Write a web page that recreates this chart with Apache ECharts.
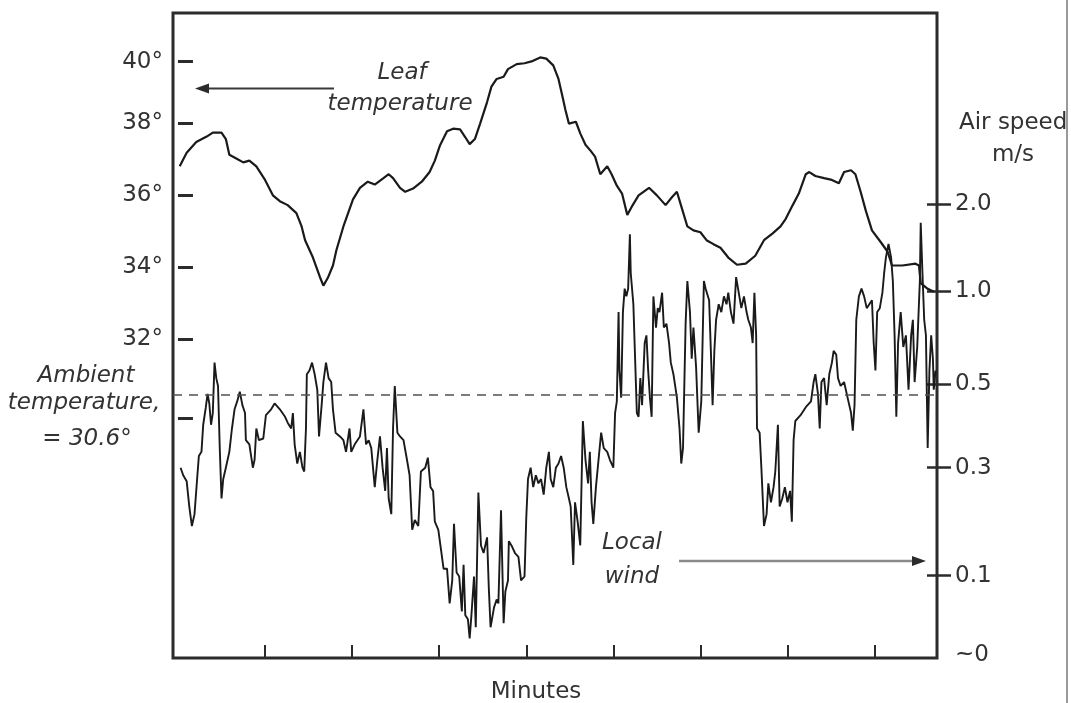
<!DOCTYPE html>
<html><head><meta charset="utf-8">
<script src="https://cdn.jsdelivr.net/npm/echarts@6/dist/echarts.min.js"></script>
<style>html,body{margin:0;padding:0;background:#fff}#c{width:1071px;height:703px}</style>
</head><body><div id="c"></div><script>
// ---------------- data ----------------
// Leaf temperature, degrees C, versus time (minutes)
const leafTime = [0.02,0.10,0.21,0.33,0.40,0.50,0.55,0.59,0.67,0.75,
0.82,0.90,1.00,1.09,1.17,1.26,1.36,1.42,1.46,1.55,
1.63,1.67,1.72,1.78,1.82,1.90,2.01,2.09,2.18,2.26,
2.36,2.42,2.47,2.55,2.61,2.70,2.80,2.89,2.95,3.01,
3.09,3.16,3.24,3.30,3.35,3.41,3.47,3.55,3.60,3.66,
3.74,3.79,3.89,3.98,4.06,4.16,4.23,4.31,4.37,4.41,
4.45,4.49,4.57,4.62,4.68,4.74,4.79,4.85,4.93,4.98,
5.04,5.10,5.16,5.21,5.29,5.41,5.50,5.60,5.67,5.73,
5.79,5.85,5.92,6.00,6.07,6.15,6.23,6.32,6.42,6.52,
6.63,6.73,6.83,6.92,6.98,7.06,7.13,7.21,7.25,7.32,
7.42,7.51,7.59,7.65,7.73,7.78,7.84,7.90,7.97,8.07,
8.15,8.20,8.32,8.47,8.51,8.53,8.61,8.68];
const leafTemp = [36.80,37.18,37.48,37.63,37.74,37.74,37.56,37.12,37.02,36.91,
36.96,36.80,36.42,35.99,35.83,35.72,35.50,35.13,34.75,34.27,
33.73,33.49,33.70,34.05,34.48,35.13,35.88,36.20,36.37,36.29,
36.47,36.58,36.47,36.20,36.09,36.18,36.37,36.64,36.96,37.39,
37.78,37.85,37.83,37.61,37.42,37.56,37.99,38.69,39.19,39.44,
39.51,39.76,39.92,39.95,40.01,40.14,40.10,39.88,39.44,38.94,
38.43,37.99,38.05,37.72,37.40,37.23,37.07,36.58,36.80,36.58,
36.26,36.04,35.45,35.67,35.99,36.20,35.99,35.72,35.93,36.09,
35.61,35.13,35.02,34.97,34.75,34.64,34.54,34.27,34.07,34.10,
34.32,34.75,34.94,35.13,35.34,35.72,36.04,36.58,36.64,36.53,
36.47,36.42,36.33,36.64,36.69,36.58,36.09,35.56,35.02,34.70,
34.43,34.05,34.05,34.10,34.05,33.56,33.40,33.32];

// Local wind (air speed, m/s) versus time (minutes)
const windTime = [0.03,0.06,0.10,0.13,0.16,0.19,0.22,0.24,0.27,0.29,
0.32,0.34,0.36,0.38,0.40,0.42,0.44,0.46,0.48,0.50,
0.52,0.55,0.59,0.62,0.65,0.68,0.71,0.74,0.77,0.78,
0.82,0.86,0.88,0.90,0.93,0.98,1.01,1.07,1.11,1.17,
1.23,1.26,1.30,1.32,1.34,1.37,1.40,1.43,1.45,1.47,
1.48,1.51,1.54,1.57,1.60,1.62,1.65,1.67,1.70,1.73,
1.76,1.78,1.81,1.86,1.90,1.93,1.97,1.99,2.03,2.09,
2.13,2.16,
2.19,2.22,2.26,2.29,2.32,2.35,2.38,2.40,2.42,2.45,
2.47,2.49,2.52,2.55,2.59,2.63,2.66,2.69,2.72,2.76,
2.79,2.84,2.87,2.90,2.93,2.95,2.99,3.02,3.05,3.09,
3.12,3.15,3.17,3.20,3.23,3.26,3.28,3.30,3.33,3.35,
3.37,3.40,3.42,3.45,3.48,3.51,3.55,3.57,3.59,3.63,
3.66,3.68,3.71,3.74,3.76,3.79,3.80,3.83,3.87,3.91,
3.94,3.98,4.00,4.02,4.05,4.08,4.11,4.14,4.17,4.20,
4.23,4.26,4.28,4.31,4.34,4.37,
4.40,4.43,4.46,4.49,4.51,4.54,4.56,4.59,4.62,4.65,
4.68,4.71,4.73,4.75,4.77,4.80,4.83,4.86,4.89,4.93,
4.96,5.00,5.02,5.04,5.06,5.07,5.09,5.11,5.13,5.15,
5.17,5.19,5.20,5.23,5.25,5.27,5.29,5.31,5.33,5.36,
5.38,5.40,5.42,5.44,5.46,5.49,5.51,5.53,5.56,5.58,
5.61,5.64,5.66,5.69,5.73,5.76,5.78,5.80,5.83,5.85,
5.88,5.90,5.92,5.95,5.98,6.01,6.04,6.06,6.10,6.12,
6.14,6.16,6.18,6.21,6.24,6.27,6.30,6.32,6.35,6.38,
6.41,6.44,6.47,6.50,6.53,6.55,
6.58,6.60,6.62,6.64,6.65,6.68,6.70,6.73,6.76,6.78,
6.81,6.84,6.86,6.89,6.91,6.94,6.97,7.00,7.03,7.05,
7.07,7.09,7.15,7.21,7.27,7.30,7.32,7.35,7.37,7.39,
7.42,7.45,7.48,7.51,7.53,7.56,7.58,7.61,7.65,7.69,
7.73,7.75,7.77,7.79,7.82,7.85,7.88,7.91,7.94,7.97,
7.99,8.01,8.03,8.06,8.09,8.11,8.13,8.16,8.19,8.21,
8.23,8.25,8.27,8.30,8.33,8.36,8.39,8.42,8.44,8.46,
8.49,8.52,8.53,8.55,8.57,8.59,8.61,8.63,8.65,8.67,
8.68,8.70];
const windSpeed = [0.30,0.286,0.275,0.228,0.192,0.214,0.279,0.328,0.338,0.403,
0.445,0.477,0.454,0.403,0.431,0.616,0.533,0.496,0.347,0.243,
0.279,0.300,0.338,0.394,0.440,0.459,0.482,0.450,0.431,0.366,
0.356,0.300,0.319,0.394,0.366,0.370,0.426,0.440,0.454,0.440,
0.422,0.408,0.394,0.431,0.356,0.310,0.338,0.300,0.293,0.394,
0.554,0.574,0.616,0.554,0.487,0.375,0.450,0.512,0.616,0.533,
0.512,0.440,0.384,0.375,0.366,0.338,0.394,0.338,0.356,0.375,
0.440,0.356,
0.366,0.347,0.264,0.319,0.375,0.300,0.257,0.347,0.243,0.214,
0.394,0.496,0.384,0.375,0.366,0.319,0.286,0.185,0.203,0.192,
0.293,0.300,0.324,0.264,0.257,0.200,0.185,0.149,0.113,0.113,
0.065,0.094,0.196,0.106,0.099,0.055,0.120,0.050,0.045,0.021,
0.050,0.099,0.035,0.254,0.156,0.142,0.171,0.084,0.035,0.060,
0.070,0.065,0.221,0.040,0.080,0.094,0.164,0.156,0.142,0.135,
0.094,0.099,0.207,0.279,0.300,0.264,0.286,0.271,0.279,0.250,
0.300,0.338,0.279,0.264,0.300,0.310,
0.328,0.300,0.264,0.243,0.228,0.120,0.236,0.200,0.156,0.412,
0.319,0.271,0.338,0.236,0.196,0.264,0.319,0.384,0.347,0.338,
0.319,0.300,0.431,0.459,0.887,0.574,0.468,0.887,1.027,0.971,
1.027,1.654,1.205,0.929,0.637,0.431,0.422,0.533,0.450,0.721,
0.762,0.574,0.468,0.422,0.971,0.804,0.908,0.887,0.991,0.804,
0.825,0.721,0.616,0.554,0.468,0.394,0.310,0.347,0.825,1.115,
0.887,0.637,0.804,0.595,0.384,0.459,1.115,1.027,0.950,0.679,
0.450,0.679,0.846,0.929,0.887,0.971,0.929,0.991,0.887,0.825,
1.160,0.991,0.908,0.971,0.887,0.846,
0.804,0.721,0.991,0.762,0.394,0.384,0.300,0.192,0.214,0.271,
0.236,0.264,0.293,0.403,0.228,0.243,0.264,0.236,0.257,0.200,
0.366,0.412,0.426,0.445,0.459,0.512,0.554,0.477,0.394,0.512,
0.533,0.450,0.554,0.616,0.679,0.658,0.533,0.496,0.512,0.468,
0.431,0.389,0.450,0.846,0.971,1.027,0.971,0.908,0.929,0.950,
0.721,0.574,0.887,0.908,0.991,1.205,1.385,1.542,1.385,1.115,
0.762,0.422,0.721,0.887,0.700,0.762,0.487,0.762,0.846,0.512,
0.700,1.115,1.788,1.205,0.846,0.762,0.347,0.574,0.762,0.637,
0.487,0.574];

const AMBIENT_TEMP = 30.6;

// Tick values and labels
const TEMP_TICKS = [30, 32, 34, 36, 38, 40];
const TEMP_TICK_LABELS = ['', '32°', '34°', '36°', '38°', '40°'];
const SPEED_TICKS = [0, 0.1, 0.3, 0.5, 1.0, 2.0];
const SPEED_TICK_LABELS = ['~0', '0.1', '0.3', '0.5', '1.0', '2.0'];
const MINUTE_TICKS = [1, 2, 3, 4, 5, 6, 7, 8];

// ---------------- axis calibration (the original axes are hand-drawn, non-uniform) ----------------
// Height of each labelled tick above the plot bottom, in the shared vertical axis unit.
const AXIS_SPAN = 645;
const TEMP_TICK_HEIGHT = [239.7, 319, 390.7, 463, 534.7, 596.3];
const SPEED_TICK_HEIGHT = [3, 82.3, 190.3, 273.7, 367, 453.7];
const X_MIN = -0.057, X_MAX = 8.717;

function piecewise(v, xs, ys) {
  let i = 0;
  if (v >= xs[xs.length - 1]) i = xs.length - 2;
  else if (v > xs[0]) { while (v > xs[i + 1]) i++; }
  return ys[i] + (v - xs[i]) * (ys[i + 1] - ys[i]) / (xs[i + 1] - xs[i]);
}
const tempScale = v => piecewise(v, TEMP_TICKS, TEMP_TICK_HEIGHT);
const speedScale = v => piecewise(v, SPEED_TICKS, SPEED_TICK_HEIGHT);
function labelAt(val, heights, labels) {
  const i = heights.findIndex(h => Math.abs(h - val) < 0.05);
  return i >= 0 ? labels[i] : '';
}

const leafData = leafTime.slice(0, Math.min(leafTime.length, leafTemp.length))
  .map((t, i) => [t, tempScale(leafTemp[i])]);
const windData = windTime.slice(0, Math.min(windTime.length, windSpeed.length))
  .map((t, i) => [t, speedScale(windSpeed[i])]);

const FONT = '"DejaVu Sans", "Liberation Sans", Arial, sans-serif';
const INK = '#2b2b2b';
const TXT = '#333333';

const chart = echarts.init(document.getElementById('c'), null, {renderer: 'canvas'});

function txt(text, x, y, align, italic) {
  return {
    type: 'text', silent: true, z: 50,
    style: {
      text: text, x: x, y: y, fill: TXT,
      font: (italic ? 'italic ' : '') + '23px ' + FONT,
      align: align, textAlign: align, verticalAlign: 'middle', textVerticalAlign: 'middle'
    }
  };
}

chart.setOption({
  animation: false,
  backgroundColor: '#ffffff',
  grid: {left: 173, right: 134, top: 13, bottom: 45, show: true, borderColor: INK, borderWidth: 3, backgroundColor: 'transparent'},
  xAxis: {
    type: 'value', min: X_MIN, max: X_MAX,
    axisLine: {show: false},
    axisTick: {show: true, inside: true, length: 13, customValues: MINUTE_TICKS, lineStyle: {color: INK, width: 2}},
    axisLabel: {show: false},
    splitLine: {show: false}
  },
  yAxis: [
    {
      type: 'value', position: 'left', min: 0, max: AXIS_SPAN,
      axisLine: {show: false},
      axisTick: {show: true, inside: true, length: 15, customValues: TEMP_TICK_HEIGHT, lineStyle: {color: INK, width: 3}},
      axisLabel: {
        show: true, customValues: TEMP_TICK_HEIGHT.slice(1), margin: 10,
        color: TXT, fontSize: 23, fontFamily: FONT,
        formatter: v => labelAt(v, TEMP_TICK_HEIGHT, TEMP_TICK_LABELS)
      },
      splitLine: {show: false}
    },
    {
      type: 'value', position: 'right', min: 0, max: AXIS_SPAN,
      axisLine: {show: false},
      axisTick: {show: true, inside: false, length: 14, customValues: SPEED_TICK_HEIGHT.slice(1), lineStyle: {color: INK, width: 2.5}},
      axisLabel: {
        show: true, customValues: SPEED_TICK_HEIGHT, margin: 18,
        color: TXT, fontSize: 23, fontFamily: FONT,
        formatter: v => labelAt(v, SPEED_TICK_HEIGHT, SPEED_TICK_LABELS)
      },
      splitLine: {show: false}
    },
    {
      type: 'value', position: 'right', min: 0, max: AXIS_SPAN,
      axisLine: {show: false},
      axisTick: {show: true, inside: true, length: 10, customValues: SPEED_TICK_HEIGHT.slice(1), lineStyle: {color: INK, width: 2.5}},
      axisLabel: {show: false},
      splitLine: {show: false}
    }
  ],
  series: [
    {
      name: 'Leaf temperature', type: 'line', yAxisIndex: 0, data: leafData,
      symbol: 'none', smooth: false, clip: false,
      lineStyle: {color: '#1a1a1a', width: 2.2},
      markLine: {
        silent: true, symbol: ['none', 'none'], label: {show: false},
        lineStyle: {color: '#505050', width: 1.6, type: [9, 7]},
        data: [{yAxis: tempScale(AMBIENT_TEMP)}]
      },
      z: 3
    },
    {
      name: 'Local wind', type: 'line', yAxisIndex: 1, data: windData,
      symbol: 'none', smooth: false,
      lineStyle: {color: '#1a1a1a', width: 1.9},
      z: 4
    }
  ],
  graphic: [
    txt('Leaf', 402, 73.5, 'center', true),
    txt('temperature', 400, 104, 'center', true),
    {type: 'line', silent: true, shape: {x1: 334, y1: 88.5, x2: 206, y2: 88.5}, style: {stroke: '#3a3a3a', lineWidth: 2}},
    {type: 'polygon', silent: true, shape: {points: [[195, 88.5], [209, 83.5], [209, 93.5]]}, style: {fill: '#2b2b2b'}},
    txt('Local', 632, 543.5, 'center', true),
    txt('wind', 632, 577, 'center', true),
    {type: 'line', silent: true, shape: {x1: 679, y1: 561, x2: 914, y2: 561}, style: {stroke: '#8a8a8a', lineWidth: 2.5}},
    {type: 'polygon', silent: true, shape: {points: [[926, 561], [912, 556], [912, 566]]}, style: {fill: '#2b2b2b'}},
    txt('Ambient', 86, 376.5, 'center', true),
    txt('temperature,', 84, 403, 'center', true),
    txt('= 30.6°', 87, 439, 'center', true),
    txt('Air speed', 959, 123.5, 'left', false),
    txt('m/s', 1013, 155, 'center', false),
    txt('Minutes', 536, 692, 'center', false),
    {type: 'line', silent: true, shape: {x1: 1067, y1: 0, x2: 1067, y2: 703}, style: {stroke: '#9a9a9a', lineWidth: 2}}
  ]
});
</script></body></html>
